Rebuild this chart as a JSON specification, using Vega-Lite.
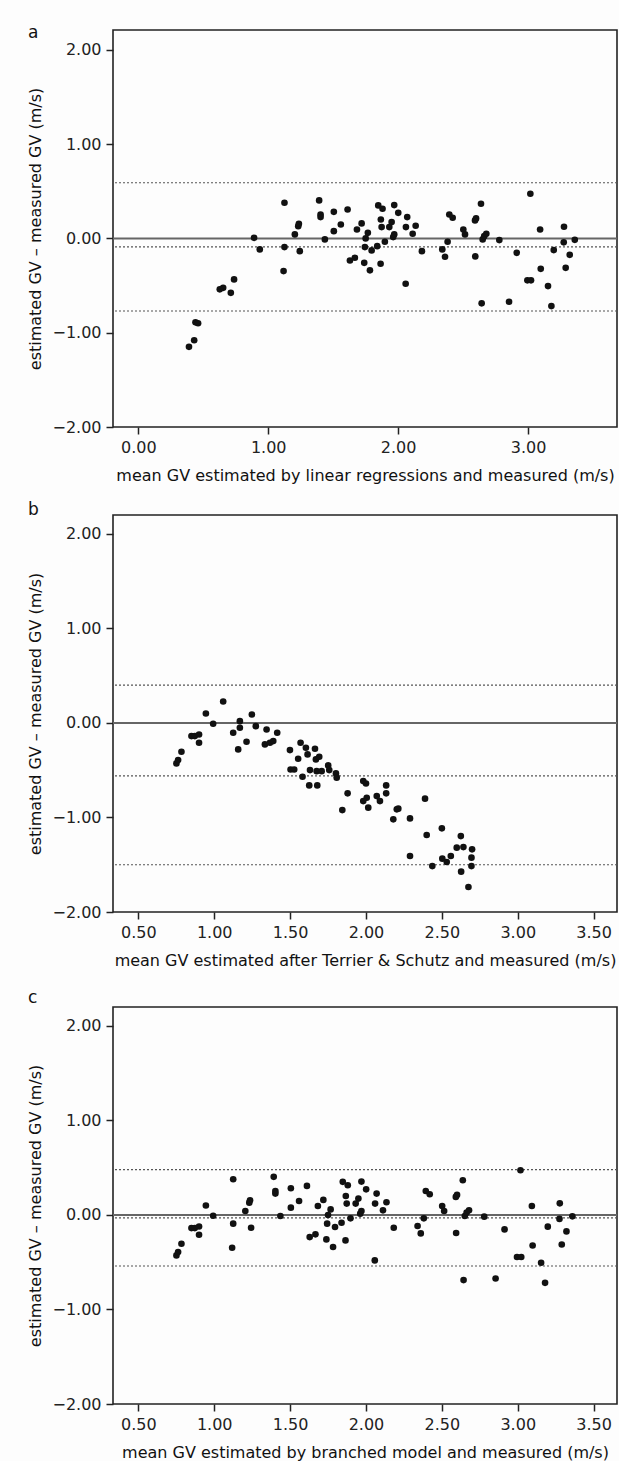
{
  "$schema": "https://vega.github.io/schema/vega-lite/v6.json",
  "background": "#fdfdfd",
  "padding": {"left": 27, "top": 23, "right": 0, "bottom": 0},
  "spacing": 16,
  "datasets": {
    "a": [
      {"x":0.39,"y":-1.15},{"x":0.43,"y":-1.08},{"x":0.44,"y":-0.89},{"x":0.46,"y":-0.9},
      {"x":0.653,"y":-0.524},{"x":0.627,"y":-0.54},{"x":0.712,"y":-0.577},{"x":0.737,"y":-0.435},
      {"x":0.891,"y":0.006},{"x":0.935,"y":-0.117},{"x":1.125,"y":0.378},{"x":1.125,"y":-0.092},
      {"x":1.118,"y":-0.347},{"x":1.205,"y":0.042},{"x":1.231,"y":0.13},{"x":1.236,"y":0.155},
      {"x":1.243,"y":-0.135},{"x":1.392,"y":0.403},{"x":1.403,"y":0.254},{"x":1.403,"y":0.226},
      {"x":1.436,"y":-0.011},{"x":1.505,"y":0.282},{"x":1.505,"y":0.077},{"x":1.559,"y":0.148},
      {"x":1.611,"y":0.307},{"x":1.629,"y":-0.234},{"x":1.667,"y":-0.205},{"x":1.683,"y":0.095},
      {"x":1.719,"y":0.159},{"x":1.739,"y":-0.259},{"x":1.75,"y":0.0},{"x":1.744,"y":-0.092},
      {"x":1.767,"y":0.059},{"x":1.783,"y":-0.339},{"x":1.796,"y":-0.127},{"x":1.839,"y":-0.082},
      {"x":1.847,"y":0.35},{"x":1.865,"y":-0.269},{"x":1.867,"y":0.201},{"x":1.873,"y":0.12},
      {"x":1.88,"y":0.314},{"x":1.898,"y":-0.036},{"x":1.932,"y":0.12},{"x":1.95,"y":0.173},
      {"x":1.962,"y":0.014},{"x":1.97,"y":0.042},{"x":1.97,"y":0.353},{"x":2.001,"y":0.271},
      {"x":2.058,"y":-0.481},{"x":2.06,"y":0.12},{"x":2.07,"y":0.226},{"x":2.112,"y":0.049},
      {"x":2.135,"y":0.134},{"x":2.183,"y":-0.135},{"x":2.34,"y":-0.117},{"x":2.361,"y":-0.195},
      {"x":2.381,"y":-0.036},{"x":2.394,"y":0.254},{"x":2.42,"y":0.219},{"x":2.502,"y":0.095},
      {"x":2.515,"y":0.042},{"x":2.592,"y":0.191},{"x":2.6,"y":0.212},{"x":2.594,"y":-0.191},
      {"x":2.638,"y":0.367},{"x":2.643,"y":-0.689},{"x":2.651,"y":-0.011},{"x":2.663,"y":0.024},
      {"x":2.679,"y":0.049},{"x":2.779,"y":-0.018},{"x":2.854,"y":-0.672},{"x":2.913,"y":-0.153},
      {"x":2.995,"y":-0.445},{"x":3.023,"y":-0.445},{"x":3.018,"y":0.473},{"x":3.093,"y":0.095},
      {"x":3.098,"y":-0.323},{"x":3.154,"y":-0.506},{"x":3.18,"y":-0.718},{"x":3.198,"y":-0.124},
      {"x":3.277,"y":0.123},{"x":3.275,"y":-0.042},{"x":3.29,"y":-0.312},{"x":3.321,"y":-0.174},
      {"x":3.36,"y":-0.015}
    ],
    "b": [
      {"x":0.751,"y":-0.428},{"x":0.762,"y":-0.393},{"x":0.784,"y":-0.305},{"x":0.85,"y":-0.139},
      {"x":0.872,"y":-0.139},{"x":0.9,"y":-0.122},{"x":0.9,"y":-0.21},{"x":0.945,"y":0.1},
      {"x":0.993,"y":-0.009},{"x":1.059,"y":0.227},{"x":1.125,"y":-0.104},{"x":1.158,"y":-0.28},
      {"x":1.169,"y":0.019},{"x":1.169,"y":-0.051},{"x":1.213,"y":-0.199},{"x":1.248,"y":0.09},
      {"x":1.274,"y":-0.034},{"x":1.345,"y":-0.069},{"x":1.334,"y":-0.227},{"x":1.367,"y":-0.21},
      {"x":1.389,"y":-0.192},{"x":1.415,"y":-0.104},{"x":1.499,"y":-0.287},{"x":1.503,"y":-0.492},
      {"x":1.527,"y":-0.492},{"x":1.553,"y":-0.379},{"x":1.569,"y":-0.21},{"x":1.582,"y":-0.569},
      {"x":1.604,"y":-0.262},{"x":1.615,"y":-0.333},{"x":1.626,"y":-0.661},{"x":1.631,"y":-0.499},
      {"x":1.664,"y":-0.273},{"x":1.67,"y":-0.386},{"x":1.679,"y":-0.661},{"x":1.692,"y":-0.357},
      {"x":1.675,"y":-0.51},{"x":1.708,"y":-0.51},{"x":1.751,"y":-0.449},{"x":1.758,"y":-0.499},
      {"x":1.802,"y":-0.534},{"x":1.807,"y":-0.579},{"x":1.879,"y":-0.745},{"x":1.982,"y":-0.615},
      {"x":2.0,"y":-0.64},{"x":2.005,"y":-0.791},{"x":2.071,"y":-0.774},{"x":1.844,"y":-0.922},
      {"x":1.982,"y":-0.827},{"x":2.015,"y":-0.896},{"x":2.092,"y":-0.827},{"x":2.133,"y":-0.661},
      {"x":2.133,"y":-0.745},{"x":2.18,"y":-1.02},{"x":2.203,"y":-0.914},{"x":2.213,"y":-0.907},
      {"x":2.29,"y":-1.01},{"x":2.29,"y":-1.408},{"x":2.389,"y":-0.801},{"x":2.4,"y":-1.186},
      {"x":2.437,"y":-1.514},{"x":2.5,"y":-1.115},{"x":2.503,"y":-1.436},{"x":2.532,"y":-1.471},
      {"x":2.559,"y":-1.408},{"x":2.598,"y":-1.319},{"x":2.642,"y":-1.313},{"x":2.625,"y":-1.197},
      {"x":2.627,"y":-1.573},{"x":2.699,"y":-1.337},{"x":2.695,"y":-1.425},{"x":2.695,"y":-1.514},
      {"x":2.675,"y":-1.736}
    ],
    "c": [
      {"x":0.751,"y":-0.428},{"x":0.762,"y":-0.393},{"x":0.784,"y":-0.305},{"x":0.85,"y":-0.139},
      {"x":0.872,"y":-0.139},{"x":0.9,"y":-0.122},{"x":0.9,"y":-0.21},{"x":0.945,"y":0.1},
      {"x":0.993,"y":-0.009},{"x":1.125,"y":0.378},{"x":1.125,"y":-0.092},
      {"x":1.118,"y":-0.347},{"x":1.205,"y":0.042},{"x":1.231,"y":0.13},{"x":1.236,"y":0.155},
      {"x":1.243,"y":-0.135},{"x":1.392,"y":0.403},{"x":1.403,"y":0.254},{"x":1.403,"y":0.226},
      {"x":1.436,"y":-0.011},{"x":1.505,"y":0.282},{"x":1.505,"y":0.077},{"x":1.559,"y":0.148},
      {"x":1.611,"y":0.307},{"x":1.629,"y":-0.234},{"x":1.667,"y":-0.205},{"x":1.683,"y":0.095},
      {"x":1.719,"y":0.159},{"x":1.739,"y":-0.259},{"x":1.75,"y":0.0},{"x":1.744,"y":-0.092},
      {"x":1.767,"y":0.059},{"x":1.783,"y":-0.339},{"x":1.796,"y":-0.127},{"x":1.839,"y":-0.082},
      {"x":1.847,"y":0.35},{"x":1.865,"y":-0.269},{"x":1.867,"y":0.201},{"x":1.873,"y":0.12},
      {"x":1.88,"y":0.314},{"x":1.898,"y":-0.036},{"x":1.932,"y":0.12},{"x":1.95,"y":0.173},
      {"x":1.962,"y":0.014},{"x":1.97,"y":0.042},{"x":1.97,"y":0.353},{"x":2.001,"y":0.271},
      {"x":2.058,"y":-0.481},{"x":2.06,"y":0.12},{"x":2.07,"y":0.226},{"x":2.112,"y":0.049},
      {"x":2.135,"y":0.134},{"x":2.183,"y":-0.135},{"x":2.34,"y":-0.117},{"x":2.361,"y":-0.195},
      {"x":2.381,"y":-0.036},{"x":2.394,"y":0.254},{"x":2.42,"y":0.219},{"x":2.502,"y":0.095},
      {"x":2.515,"y":0.042},{"x":2.592,"y":0.191},{"x":2.6,"y":0.212},{"x":2.594,"y":-0.191},
      {"x":2.638,"y":0.367},{"x":2.643,"y":-0.689},{"x":2.651,"y":-0.011},{"x":2.663,"y":0.024},
      {"x":2.679,"y":0.049},{"x":2.779,"y":-0.018},{"x":2.854,"y":-0.672},{"x":2.913,"y":-0.153},
      {"x":2.995,"y":-0.445},{"x":3.023,"y":-0.445},{"x":3.018,"y":0.473},{"x":3.093,"y":0.095},
      {"x":3.098,"y":-0.323},{"x":3.154,"y":-0.506},{"x":3.18,"y":-0.718},{"x":3.198,"y":-0.124},
      {"x":3.277,"y":0.123},{"x":3.275,"y":-0.042},{"x":3.29,"y":-0.312},{"x":3.321,"y":-0.174},
      {"x":3.36,"y":-0.015}
    ],
    "a_loa": [{"y":0.59},{"y":-0.09},{"y":-0.77}],
    "b_loa": [{"y":0.40},{"y":-0.56},{"y":-1.50}],
    "c_loa": [{"y":0.48},{"y":-0.03},{"y":-0.54}],
    "zero": [{"y":0}]
  },
  "vconcat": [
    {
      "title": {"text": "a", "offset": -25, "baseline": "alphabetic"},
      "width": 504, "height": 397,
      "layer": [
        {"data": {"name": "a_loa"}, "mark": {"type": "rule", "strokeDash": [2, 2], "color": "#555", "strokeWidth": 1.2},
         "encoding": {"y": {"field": "y", "type": "quantitative"}}},
        {"data": {"name": "zero"}, "mark": {"type": "rule", "color": "#666", "strokeWidth": 2},
         "encoding": {"y": {"field": "y", "type": "quantitative"}}},
        {"data": {"name": "a"}, "mark": {"type": "circle", "size": 44, "color": "#111", "opacity": 1},
         "encoding": {
           "x": {"field": "x", "type": "quantitative", "scale": {"domain": [-0.195, 3.685], "nice": false, "zero": false},
                 "axis": {"values": [0, 1, 2, 3], "format": ".2f", "title": "mean GV estimated by linear regressions and measured (m/s)"}},
           "y": {"field": "y", "type": "quantitative", "scale": {"domain": [-2, 2.21], "nice": false},
                 "axis": {"values": [-2, -1, 0, 1, 2], "format": ".2f", "title": "estimated GV – measured GV (m/s)"}}
         }}
      ]
    },
    {
      "spacing": 19,
      "vconcat": [
        {
          "title": {"text": "b", "offset": -17, "baseline": "alphabetic"},
          "width": 504, "height": 397,
          "layer": [
            {"data": {"name": "b_loa"}, "mark": {"type": "rule", "strokeDash": [2, 2], "color": "#555", "strokeWidth": 1.2},
             "encoding": {"y": {"field": "y", "type": "quantitative"}}},
            {"data": {"name": "zero"}, "mark": {"type": "rule", "color": "#666", "strokeWidth": 2},
             "encoding": {"y": {"field": "y", "type": "quantitative"}}},
            {"data": {"name": "b"}, "mark": {"type": "circle", "size": 44, "color": "#111", "opacity": 1},
             "encoding": {
               "x": {"field": "x", "type": "quantitative", "scale": {"domain": [0.333, 3.654], "nice": false, "zero": false},
                     "axis": {"values": [0.5, 1, 1.5, 2, 2.5, 3, 3.5], "format": ".2f", "title": "mean GV estimated after Terrier & Schutz and measured (m/s)"}},
               "y": {"field": "y", "type": "quantitative", "scale": {"domain": [-2, 2.2], "nice": false},
                     "axis": {"values": [-2, -1, 0, 1, 2], "format": ".2f", "title": "estimated GV – measured GV (m/s)"}}
             }}
          ]
        },
        {
          "title": {"text": "c", "offset": -13, "baseline": "alphabetic"},
          "width": 504, "height": 397,
          "layer": [
            {"data": {"name": "c_loa"}, "mark": {"type": "rule", "strokeDash": [2, 2], "color": "#555", "strokeWidth": 1.2},
             "encoding": {"y": {"field": "y", "type": "quantitative"}}},
            {"data": {"name": "zero"}, "mark": {"type": "rule", "color": "#666", "strokeWidth": 2},
             "encoding": {"y": {"field": "y", "type": "quantitative"}}},
            {"data": {"name": "c"}, "mark": {"type": "circle", "size": 44, "color": "#111", "opacity": 1},
             "encoding": {
               "x": {"field": "x", "type": "quantitative", "scale": {"domain": [0.333, 3.654], "nice": false, "zero": false},
                     "axis": {"values": [0.5, 1, 1.5, 2, 2.5, 3, 3.5], "format": ".2f", "title": "mean GV estimated by branched model and measured (m/s)"}},
               "y": {"field": "y", "type": "quantitative", "scale": {"domain": [-2, 2.2], "nice": false},
                     "axis": {"values": [-2, -1, 0, 1, 2], "format": ".2f", "title": "estimated GV – measured GV (m/s)"}}
             }}
          ]
        }
      ]
    }
  ],
  "config": {
    "view": {"stroke": "#222", "strokeWidth": 1.6, "fill": "#fdfdfd"},
    "axis": {
      "labelFont": "DejaVu Sans", "titleFont": "DejaVu Sans", "labelFontSize": 16, "titleFontSize": 16,
      "titleFontWeight": "normal", "labelColor": "#222", "titleColor": "#111",
      "tickColor": "#222", "tickWidth": 1.5, "tickSize": 7, "labelPadding": 5,
      "domain": false, "grid": false
    },
    "axisY": {"titlePadding": 8},
    "axisX": {"titlePadding": 12},
    "title": {"font": "DejaVu Sans", "fontSize": 17, "fontWeight": "normal", "anchor": "start", "frame": "bounds", "color": "#111"}
  }
}
